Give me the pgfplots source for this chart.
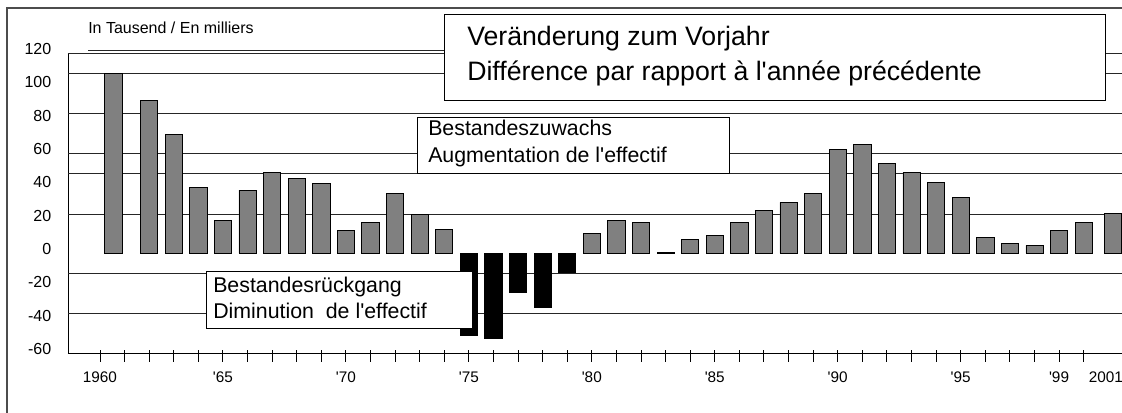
\documentclass[border=0pt]{standalone}
\usepackage{fontspec}
\setmainfont{Liberation Sans}
\usepackage{pgfplots}
\pgfplotsset{compat=1.18}
\newcommand{\q}{\textquotesingle}

\begin{document}
\begin{tikzpicture}
\begin{axis}[
    at={(51pt,44.25pt)}, anchor=south west,
    scale only axis, width=795pt, height=225pt,
    xmin=1958.7, xmax=2001.8,
    ymin=-60, ymax=120,
    axis x line*=bottom, axis y line*=left,
    axis line style={-, black, line width=0.7pt},
    /pgf/number format/assume math mode=true,
    ytick={-60,-40,...,120},
    ytick style={draw=none},
    yticklabel style={font=\fontsize{12}{14}\selectfont, xshift=-9pt, yshift=3pt},
    extra y ticks={-36,-12,23.4,48,60,84,108,120},
    extra y tick labels={},
    extra y tick style={grid=major, ytick style={draw=none}},
    grid style={black!85, line width=0.6pt},
    xtick={1960,...,2000},
    xticklabels={1960,,,,,\q65,,,,,\q70,,,,,\q75,,,,,\q80,,,,,\q85,,,,,\q90,,,,,\q95,,,,\q99,},
    extra x ticks={2000.9},
    extra x tick labels={2001},
    extra x tick style={xtick style={draw=none}},
    xtick align=center,
    major tick length=9pt,
    xtick style={black, line width=0.7pt, yshift=-2pt},
    xticklabel style={font=\fontsize{11.5}{13}\selectfont, anchor=center, yshift=-14pt},
]
% Bestandeszuwachs (positive)
\addplot[ybar, bar width=0.7, bar shift=0pt, fill=black!50, draw=black, line width=0.6pt]
coordinates {
(1960.55,107.8) (1962,91.4) (1963,71.2) (1964,39.6) (1965,19.8) (1966,37.8)
(1967,48.4) (1968,44.6) (1969,41.8) (1970,13.8) (1971,18.6) (1972,35.8)
(1973,23.4) (1974,14.4)
(1980,11.6) (1981,19.6) (1982,18.4) (1983,0.5) (1984,8.4) (1985,10.8)
(1986,18.4) (1987,25.6) (1988,30.4) (1989,35.6) (1990,62.2) (1991,65.2)
(1992,53.6) (1993,48.4) (1994,42.4) (1995,33.4) (1996,9.6) (1997,6.0)
(1998,4.6) (1999,13.6) (2000,18.4) (2001.2,23.8)
};
% Bestandesrueckgang (negative)
\addplot[ybar, bar width=0.7, bar shift=0pt, fill=black, draw=black, line width=0.6pt]
coordinates {
(1975,-49.6) (1976,-51.4) (1977,-23.6) (1978,-32.8) (1979,-11.8)
};
\end{axis}

\begin{scope}[x=0.75pt, y=0.75pt]
  % outer frame
  \draw[black!70, line width=0.8pt] (7,-5) -- (7,404) -- (1130,404);
  \draw[black!85, line width=0.6pt] (88,362) -- (444,362);
  \node[anchor=base west, inner sep=0pt, font=\fontsize{12}{14}\selectfont] at (88,379) {In Tausend / En milliers};
  % title box
  \draw[draw=black, fill=white, line width=0.7pt] (444,398) rectangle (1105,312);
  \node[anchor=base west, inner sep=0pt, font=\fontsize{20}{24}\selectfont] at (467,367) {Veränderung zum Vorjahr};
  \node[anchor=base west, inner sep=0pt, font=\fontsize{20}{24}\selectfont] at (467,332) {Différence par rapport à l\q année précédente};
  % increase box
  \draw[draw=black, fill=white, line width=0.7pt] (417,295) rectangle (729,239);
  \node[anchor=base west, inner sep=0pt, font=\fontsize{16}{19}\selectfont] at (428,277) {Bestandeszuwachs};
  \node[anchor=base west, inner sep=0pt, font=\fontsize{16}{19}\selectfont] at (428,250) {Augmentation de l\q effectif};
  % decrease box
  \draw[draw=black, fill=white, line width=0.7pt] (206,141) rectangle (472,84);
  \node[anchor=base west, inner sep=0pt, font=\fontsize{16}{19}\selectfont] at (213,120) {Bestandesrückgang};
  \node[anchor=base west, inner sep=0pt, font=\fontsize{16}{19}\selectfont] at (213,94) {Diminution\ \ de l\q effectif};
\end{scope}

\pgfresetboundingbox
\path[use as bounding box] (0,0) rectangle (841.5pt,309pt);
\end{tikzpicture}
\end{document}
